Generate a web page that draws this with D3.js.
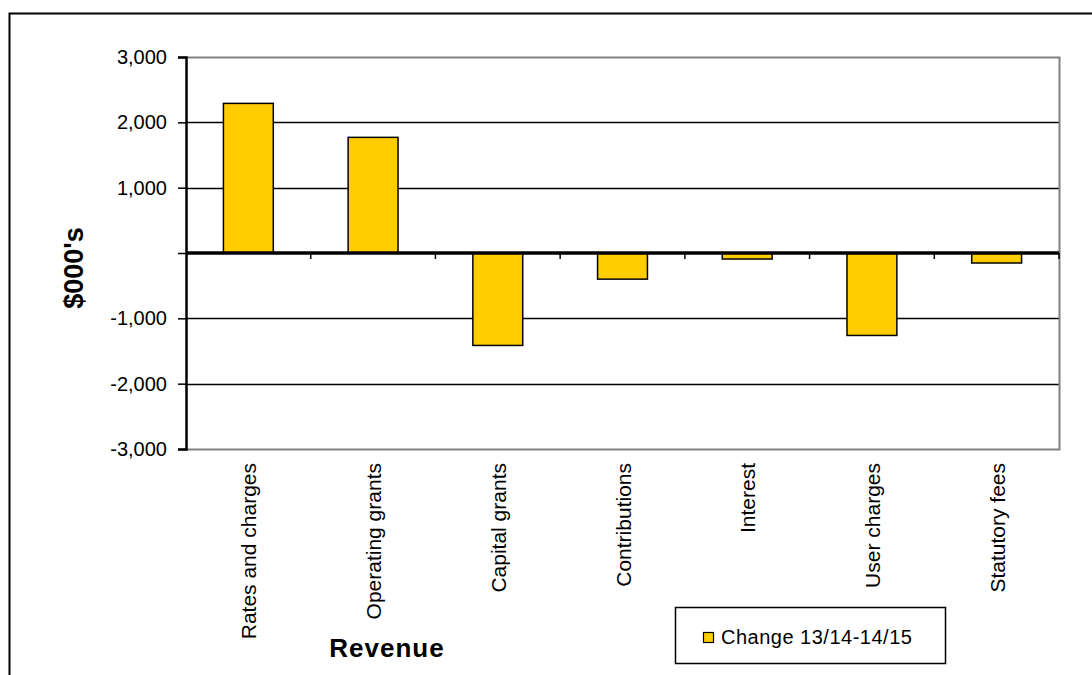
<!DOCTYPE html>
<html>
<head>
<meta charset="utf-8">
<script src="https://cdn.jsdelivr.net/npm/d3@7"></script>
<style>
  body { margin: 0; background: #fff; }
  text { font-family: "Liberation Sans", Arial, sans-serif; fill: #000; }
</style>
</head>
<body>
<div id="chart"></div>
<script>
// chart data
var categories = ["Rates and charges", "Operating grants", "Capital grants", "Contributions", "Interest", "User charges", "Statutory fees"];
var changeValues = [2290, 1770, -1415, -400, -92, -1262, -153];
var yTicks = [-3000, -2000, -1000, 0, 1000, 2000, 3000];
var seriesName = "Change 13/14-14/15";

var svgWidth = 1092;
var svgHeight = 675;

var plot = { left: 186, top: 57, right: 1059, bottom: 449 };

var svg = d3.select("#chart")
  .append("svg")
  .attr("width", svgWidth)
  .attr("height", svgHeight);

// outer frame (right/bottom run off the picture)
svg.append("rect")
  .attr("x", 9.5).attr("y", 13.5)
  .attr("width", 1100).attr("height", 700)
  .attr("fill", "#fff")
  .attr("stroke", "#000")
  .attr("stroke-width", 2);

var x = d3.scaleBand()
  .domain(categories)
  .range([plot.left, plot.right])
  .paddingInner(0.6)
  .paddingOuter(0.3);

var y = d3.scaleLinear()
  .domain([-3000, 3000])
  .range([plot.bottom, plot.top]);

var fmt = d => d3.format(",")(d).replace("\u2212", "-");

// gridlines
svg.append("g")
  .selectAll("line")
  .data(yTicks.filter(d => d !== 0 && d !== 3000 && d !== -3000))
  .enter()
  .append("line")
  .attr("x1", plot.left).attr("x2", plot.right)
  .attr("y1", d => Math.round(y(d)) + 0.5)
  .attr("y2", d => Math.round(y(d)) + 0.5)
  .attr("stroke", "#000")
  .attr("stroke-width", 1.5);

// plot border top/right/bottom in grey
svg.append("path")
  .attr("d", `M${plot.left},${plot.top + 0.5}H${plot.right + 0.5}V${plot.bottom + 0.5}H${plot.left}`)
  .attr("fill", "none")
  .attr("stroke", "#808080")
  .attr("stroke-width", 2);

// bars
svg.append("g")
  .selectAll("rect")
  .data(changeValues)
  .enter()
  .append("rect")
  .attr("x", (d, i) => x(categories[i]))
  .attr("y", d => y(Math.max(0, d)))
  .attr("width", x.bandwidth())
  .attr("height", d => Math.abs(y(d) - y(0)))
  .attr("fill", "#ffcc00")
  .attr("stroke", "#000")
  .attr("stroke-width", 1.5);

// y axis
var leftAxis = d3.axisLeft(y)
  .tickValues(yTicks)
  .tickSize(8)
  .tickPadding(11)
  .tickFormat(d => d === 0 ? "" : fmt(d));

svg.append("g")
  .attr("transform", `translate(${plot.left},0)`)
  .call(leftAxis)
  .call(g => g.select(".domain").attr("stroke", "#000").attr("stroke-width", 2.5))
  .call(g => g.selectAll(".tick line").attr("stroke", "#000").attr("stroke-width", 1.5))
  .call(g => g.selectAll(".tick text").attr("font-size", "20px").attr("font-family", "Liberation Sans, Arial, sans-serif"));

// zero line with category ticks
var zeroAxis = d3.axisBottom(x)
  .tickSize(6)
  .tickFormat("");

svg.append("g")
  .attr("transform", `translate(0,${y(0)})`)
  .call(zeroAxis)
  .call(g => g.select(".domain").attr("stroke", "#000").attr("stroke-width", 3.5).attr("d", `M${plot.left},0H${plot.right}`))
  .call(g => g.selectAll(".tick").attr("transform", d => `translate(${x(d) + x.bandwidth() / 2 + x.step() / 2},0)`))
  .call(g => g.selectAll(".tick line").attr("stroke", "#000").attr("stroke-width", 1.5));

// category labels (rotated)
svg.append("g")
  .selectAll("text")
  .data(categories)
  .enter()
  .append("text")
  .attr("transform", d => `translate(${x(d) + x.bandwidth() / 2 + 8},${plot.bottom + 14}) rotate(-90)`)
  .attr("text-anchor", "end")
  .attr("font-size", "21px")
  .text(d => d);

// axis titles
svg.append("text")
  .attr("transform", `translate(${83},${268}) rotate(-90)`)
  .attr("text-anchor", "middle")
  .attr("font-size", "27px")
  .attr("font-weight", "bold")
  .text("$000's");

svg.append("text")
  .attr("x", 387)
  .attr("y", 657)
  .attr("text-anchor", "middle")
  .attr("font-size", "26px")
  .attr("font-weight", "bold")
  .attr("letter-spacing", "1px")
  .text("Revenue");

// legend
var legend = svg.append("g");
legend.append("rect")
  .attr("x", 675.5).attr("y", 607.5)
  .attr("width", 270).attr("height", 56)
  .attr("fill", "#fff")
  .attr("stroke", "#000")
  .attr("stroke-width", 1.5);
legend.append("rect")
  .attr("x", 703.5).attr("y", 632.5)
  .attr("width", 10).attr("height", 10)
  .attr("fill", "#ffcc00")
  .attr("stroke", "#000")
  .attr("stroke-width", 1.2);
legend.append("text")
  .attr("x", 721)
  .attr("y", 644)
  .attr("font-size", "20px")
  .attr("letter-spacing", "0.5px")
  .text(seriesName);
</script>
</body>
</html>
